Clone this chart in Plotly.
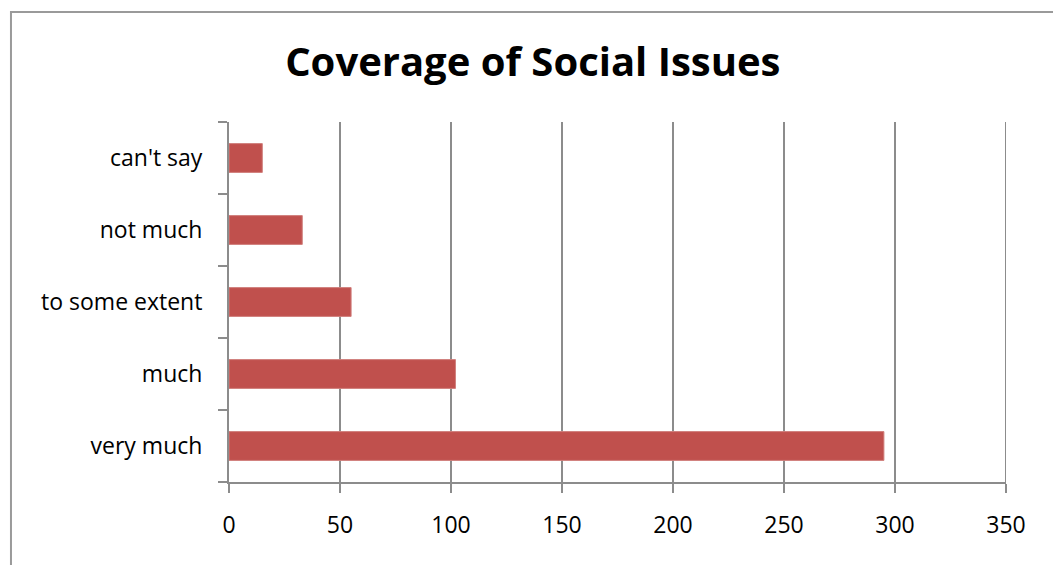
import plotly.graph_objects as go

# Survey responses on coverage of social issues
categories = ["can't say", "not much", "to some extent", "much", "very much"]
responses = [15, 33, 55, 102, 295]
x_ticks = [0, 50, 100, 150, 200, 250, 300, 350]
x_max = 350

FONT = "'Open Sans', Calibri, sans-serif"
AXIS_GREY = "#8C8C8C"

fig = go.Figure(
    go.Bar(
        x=responses,
        y=categories,
        orientation="h",
        marker=dict(color="#C0504D", line=dict(color="#D07F7C", width=1)),
        hoverinfo="x+y",
    )
)

fig.update_layout(
    width=1053,
    height=565,
    margin=dict(l=229, r=47, t=122, b=83),
    paper_bgcolor="white",
    plot_bgcolor="white",
    showlegend=False,
    bargap=0.6,
    title=dict(
        text="<b>Coverage of Social Issues</b>",
        x=0.506,
        xanchor="center",
        y=0.89,
        yanchor="middle",
        font=dict(family=FONT, size=40, color="black"),
    ),
    font=dict(family=FONT, size=23, color="black"),
)

fig.update_xaxes(
    range=[0, x_max],
    tickvals=x_ticks,
    ticktext=[str(v) for v in x_ticks],
    showgrid=True,
    gridcolor=AXIS_GREY,
    gridwidth=2,
    showline=True,
    linecolor=AXIS_GREY,
    linewidth=2,
    ticks="outside",
    ticklen=9,
    tickwidth=2,
    tickcolor=AXIS_GREY,
    ticklabelstandoff=12,
    zeroline=False,
    fixedrange=True,
)

fig.update_yaxes(
    categoryorder="array",
    categoryarray=categories[::-1],
    showgrid=False,
    showline=True,
    linecolor=AXIS_GREY,
    linewidth=2,
    ticks="outside",
    tickson="boundaries",
    ticklen=9,
    tickwidth=2,
    tickcolor=AXIS_GREY,
    ticklabelstandoff=20,
    zeroline=False,
    fixedrange=True,
)

# Gridline at the far end of the value axis
fig.add_shape(
    type="line",
    xref="x", yref="paper",
    x0=x_max, x1=x_max, y0=0, y1=1,
    line=dict(color=AXIS_GREY, width=2),
    layer="below",
)

# Chart-area frame (left and top edges fall inside the page)
fig.add_shape(
    type="rect",
    xref="paper", yref="paper",
    x0=-0.2806, x1=1.2, y0=-0.5, y1=1.3056,
    line=dict(color="#9A9A9A", width=2),
    fillcolor="rgba(0,0,0,0)",
    layer="below",
)

fig.write_html("out.html")
